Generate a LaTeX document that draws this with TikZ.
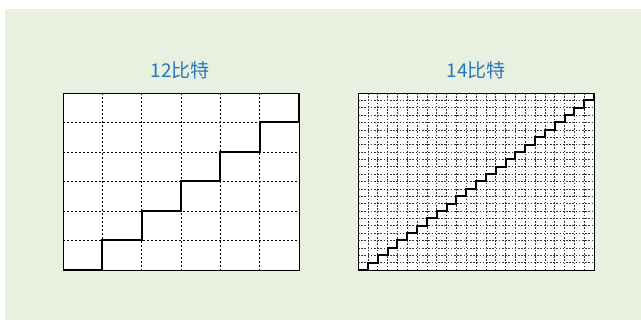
\documentclass[tikz,border=0pt]{standalone}
\usepackage{fontspec}
\newfontfamily\cjk{Noto Sans CJK SC}
\definecolor{bg}{RGB}{232,240,224}
\definecolor{ttl}{RGB}{40,118,188}
\begin{document}
\begin{tikzpicture}[x=1pt,y=-1pt,
  gridline/.style={black, line width=0.6pt, dash pattern=on 2.2pt off 1.8pt},
  fineline/.style={black!80, line width=0.5pt, dash pattern=on 1.6pt off 1.6pt},
  frame/.style={draw=black, line width=0.9pt},
  stair/.style={black, line width=2pt, line join=miter},
  ttlst/.style={text=ttl, font=\cjk\fontsize{19}{22}\selectfont, inner sep=0pt}]
\useasboundingbox (0,0) rectangle (641,320);
\fill[white] (0,0) rectangle (641,320);
\fill[bg] (5,9) rectangle (641,320);
\node[ttlst] (t1) at (180,70) {12比特};
\node[ttlst] (t2) at (476,70) {14比特};
% left box
\fill[white] (63,93) rectangle (299,270);
\foreach \i in {1,...,5} {
  \draw[gridline] ({63+\i*236/6},93) -- ({63+\i*236/6},270);
  \draw[gridline] (63,{93+\i*177/6}) -- (299,{93+\i*177/6});
}
\draw[frame] (63,93) rectangle (299,270);
\draw[stair] (63,270) \foreach \i in {1,...,6} { -- ++(236/6,0) -- ++(0,-177/6) };
% right box
\fill[white] (358,93) rectangle (594,270);
\foreach \i in {1,...,23} {
  \draw[fineline] ({358+\i*236/24},93) -- ({358+\i*236/24},270);
  \draw[fineline] (358,{93+\i*177/24}) -- (594,{93+\i*177/24});
}
\draw[frame] (358,93) rectangle (594,270);
\draw[stair] (358,270) \foreach \i in {1,...,24} { -- ++(236/24,0) -- ++(0,-177/24) };
\end{tikzpicture}
\end{document}
